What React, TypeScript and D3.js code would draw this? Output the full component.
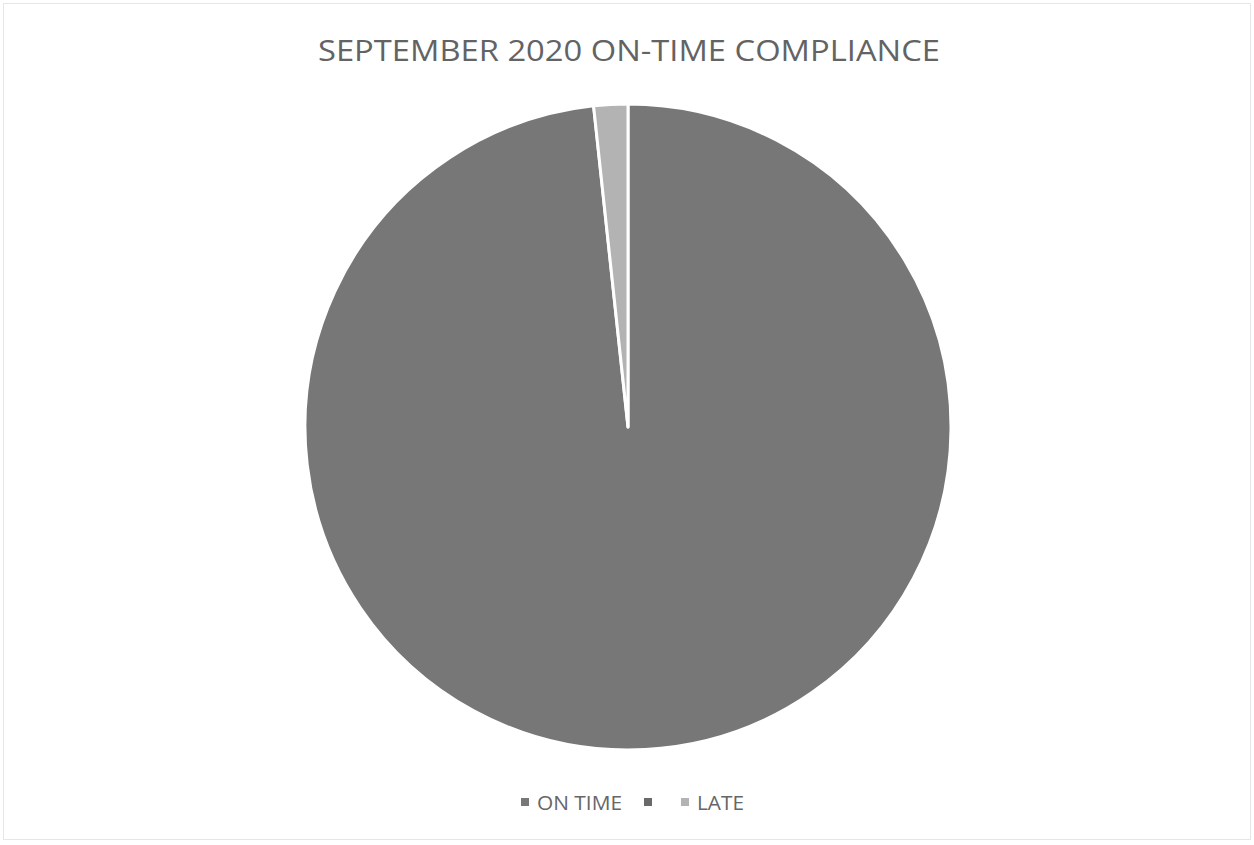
import React from "react";
import * as d3 from "d3";

const categories = ["ON TIME", "", "LATE"];
const values = [98.3, 0, 1.7];
const colors = ["#777777", "#6a6a6a", "#b3b3b3"];
const title = "SEPTEMBER 2020 ON-TIME COMPLIANCE";

export default function App() {
  const W = 1254, H = 845;
  const cx = 628, cy = 427, r = 323;
  const data = categories.map((c, i) => ({ name: c, value: values[i], color: colors[i] }));
  const pie = d3.pie<any>().sort(null).value((d: any) => d.value);
  const arcs = pie(data);
  const arc = d3.arc<any>().innerRadius(0).outerRadius(r);
  const legendX = [521, 644, 681];
  const font = "'Open Sans', 'Liberation Sans', sans-serif";
  return (
    <svg width={W} height={H} style={{ position: "absolute", left: 0, top: 0, display: "block" }} fontFamily={font}>
      <rect x={0} y={0} width={W} height={H} fill="#fff" />
      <rect x={3.5} y={3.5} width={W - 7} height={H - 9} fill="none" stroke="#e6e6e6" strokeWidth={1} />
      <text x={629} y={61} textAnchor="middle" fontSize={30} fill="#636363" textLength={622} lengthAdjust="spacingAndGlyphs">{title}</text>
      <g transform={`translate(${cx},${cy})`}>
        {arcs.map((a, i) => (
          <path key={i} d={arc(a) || ""} fill={a.data.color} stroke="#fff" strokeWidth={a.value > 0 ? 3 : 0} strokeLinejoin="round" />
        ))}
      </g>
      <g fontSize={20} fill="#666666">
        {data.map((d, i) => (
          <g key={i}>
            <rect x={legendX[i]} y={798} width={8} height={8} fill={d.color} />
            {d.name && (
              <text x={legendX[i] + 16} y={810} textLength={i === 0 ? 85 : 47} lengthAdjust="spacingAndGlyphs">{d.name}</text>
            )}
          </g>
        ))}
      </g>
    </svg>
  );
}
